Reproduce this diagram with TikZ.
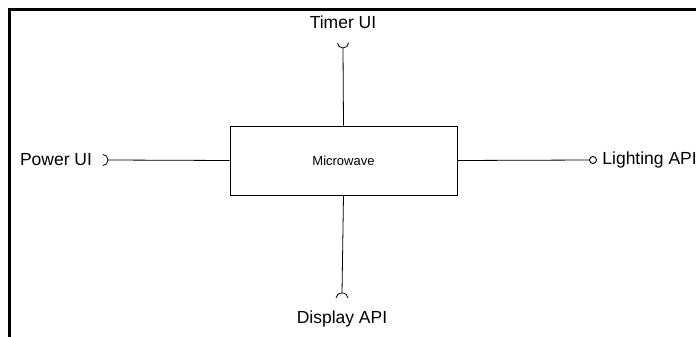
\documentclass[tikz,border=0pt]{standalone}
\usepackage{fontspec}
\setmainfont{Liberation Sans}
\tikzset{
  lbl/.style={inner sep=0pt, font=\fontsize{17.5}{20}\selectfont},
  lolli/.style={circle, draw, fill=white, minimum size=7pt, inner sep=0pt, line width=0.9pt}
}
\begin{document}
\begin{tikzpicture}[x=1pt, y=1pt, line width=0.8pt]
    \useasboundingbox (0,0) rectangle (696,337);
    % frame
    \draw[line width=2.6pt] (9.3,0) -- (9.3,328.7);
    \draw[line width=2.6pt] (8,327.4) -- (696,327.4);
    % component
    \node [draw, minimum width=227pt, minimum height=69pt, font=\fontsize{13}{15}\selectfont] (mw) at (343.5,176.5) {Microwave};
    % labels
    \node [lbl] (timer) at (343,315) {Timer UI};
    \node [lbl] (power) at (56,177) {Power UI};
    \node [lbl, anchor=west] (light) at (602,177) {Lighting API};
    \node [lbl] (disp) at (342,18) {Display API};
    % connector ends
    \coordinate (timerend) at (343,289);
    \coordinate (powerend) at (108,177);
    \coordinate (dispend) at (342,44);
    \node [lolli] (lightend) at (593,177) {};
    % connectors
    \draw (mw.north) -- (timerend);
    \draw (mw.west) -- (powerend);
    \draw (mw.south) -- (dispend);
    \draw (mw.east) -- (lightend);
    % sockets
    \draw ([xshift=-5.5pt,yshift=5pt]timerend) arc (180:360:5.5pt and 5pt);
    \draw ([xshift=-5pt,yshift=5.5pt]powerend) arc (90:-90:5pt and 5.5pt);
    \draw ([xshift=-6pt,yshift=-5pt]dispend) arc (180:0:6pt and 5pt);
  \end{tikzpicture}
\end{document}
